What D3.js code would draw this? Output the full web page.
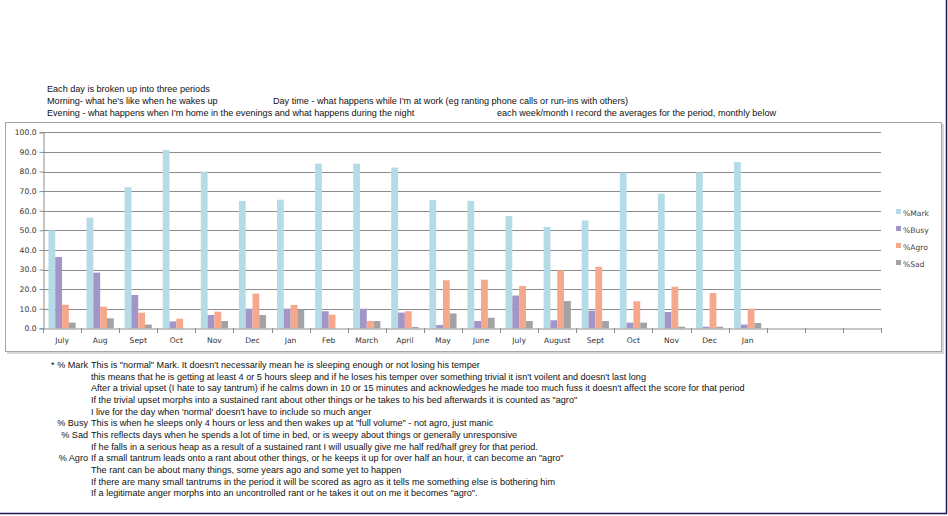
<!DOCTYPE html>
<html>
<head>
<meta charset="utf-8">
<script src="https://cdn.jsdelivr.net/npm/d3@7"></script>
<style>
  body { margin: 0; background: #fff; }
  svg { display: block; }
</style>
</head>
<body>
<svg id="chart" width="948" height="516"></svg>
<script>
// months recorded, the axis has 3 more empty slots after the last Jan
const months = ["July", "Aug", "Sept", "Oct", "Nov", "Dec", "Jan", "Feb", "March", "April",
    "May", "June", "July", "August", "Sept", "Oct", "Nov", "Dec", "Jan"];
const slots = 22;

const series = ["%Mark", "%Busy", "%Agro", "%Sad"];
const colors = ["#b4dbe6", "#a395c7", "#f5a88c", "#a3a3a3"];

const mark = [50, 56.5, 72, 91, 80, 65, 65.6, 84, 84, 82, 65.5, 65, 57.3, 51.7, 55, 79.5, 68.7, 79.6, 84.8];
const busy = [36.4, 28.4, 17, 3.5, 6.8, 10, 10, 8.7, 10, 8, 1.7, 3.7, 16.7, 4.1, 9, 2.9, 8.3, 0.8, 1.9];
const agro = [12, 11, 8, 4.9, 8.5, 17.7, 11.9, 7, 3.7, 8.7, 24.5, 24.8, 21.6, 29.6, 31.4, 13.8, 21.2, 18, 10];
const sad = [2.9, 5.1, 1.9, 0, 3.7, 6.8, 9.5, 0, 3.7, 0.7, 7.6, 5.4, 3.7, 13.9, 3.7, 2.9, 0.8, 0.8, 2.7];

const yTicks = [0, 10, 20, 30, 40, 50, 60, 70, 80, 90, 100];

const headerLines = [
    ["Each day is broken up into three periods", ""],
    ["Morning- what he's like when he wakes up", "Day time - what happens while I'm at work (eg ranting phone calls or run-ins with others)"],
    ["Evening - what happens when I'm home in the evenings and what happens during the night", "each week/month I record the averages for the period, monthly below"]
];

const notes = [
    ["* % Mark", "This is \"normal\" Mark. It doesn't necessarily mean he is sleeping enough or not losing his temper"],
    ["", "this means that he is getting at least 4 or 5 hours sleep and if he loses his temper over something trivial it isn't voilent and doesn't last long"],
    ["", "After a trivial upset (I hate to say tantrum) if he calms down in 10 or 15 minutes and acknowledges he made too much fuss it doesn't affect the score for that period"],
    ["", "If the trivial upset morphs into a sustained rant about other things or he takes to  his bed afterwards it is counted as \"agro\""],
    ["", "I live for the day when 'normal' doesn't have to include so much anger"],
    ["% Busy", "This is when he sleeps only 4 hours or less and then wakes up at \"full volume\" - not agro, just manic"],
    ["% Sad", "This reflects days when he spends a lot of time in bed, or is weepy about things or generally unresponsive"],
    ["", "If he falls in a serious heap as a result of a sustained rant I will usually give me half red/half grey for that period."],
    ["% Agro", "If a small tantrum leads onto a rant about other things, or he keeps it up for over half an hour,  it can become an \"agro\""],
    ["", "The rant can be about many things, some years ago and some yet to happen"],
    ["", "If there are many small tantrums in the period it will be scored as agro as it tells me something else is bothering him"],
    ["", "If a legitimate anger morphs into an uncontrolled rant or he takes it out on me it becomes \"agro\"."]
];

const textFont = "'Liberation Sans', Arial, sans-serif";
const chartFont = "'DejaVu Sans', sans-serif";
const textSize = "9.1px";

const svg = d3.select("#chart");

// page frame lines (right and bottom)
svg.append("line").attr("x1", 946.5).attr("x2", 946.5).attr("y1", 0).attr("y2", 513.5)
    .attr("stroke", "#1c1a5c").attr("stroke-width", 1.5);
svg.append("line").attr("x1", 0).attr("x2", 947).attr("y1", 513.5).attr("y2", 513.5)
    .attr("stroke", "#1c1a5c").attr("stroke-width", 1.5);

// header text
headerLines.forEach((l, i) => {
    const yy = 92 + i * 12;
    svg.append("text").attr("x", 47).attr("y", yy)
        .style("font-family", textFont).style("font-size", textSize).style("fill", "#111")
        .text(l[0]);
    if (l[1]) {
        svg.append("text").attr("x", i === 1 ? 273 : 497).attr("y", yy)
            .style("font-family", textFont).style("font-size", textSize).style("fill", "#111")
            .text(l[1]);
    }
});

// chart box with a small shadow
svg.append("rect").attr("x", 7).attr("y", 124).attr("width", 937).attr("height", 230)
    .attr("fill", "#d8d8d8");
svg.append("rect").attr("x", 5.5).attr("y", 122.5).attr("width", 936).attr("height", 229)
    .attr("fill", "#fff").attr("stroke", "#a6a6a6");

const plotLeft = 43, plotRight = 881, plotTop = 132.3, plotBottom = 328.3;

const x0 = d3.scaleBand().domain(d3.range(slots)).range([plotLeft, plotRight]).padding(0);
const x1 = d3.scaleBand().domain(series).range([0, x0.bandwidth()]).paddingInner(0).paddingOuter(0.8);
const y = d3.scaleLinear().domain([0, 100]).range([plotBottom, plotTop]);

const g = svg.append("g");

// gridlines
g.selectAll(".grid").data(yTicks.filter(d => d > 0)).enter().append("line")
    .attr("x1", plotLeft).attr("x2", plotRight)
    .attr("y1", d => Math.round(y(d)) + 0.5).attr("y2", d => Math.round(y(d)) + 0.5)
    .attr("stroke", "#8c8c8c").attr("stroke-width", 1);

// y axis
const yAxis = g.append("g").attr("transform", `translate(${plotLeft + 0.5},0)`)
    .call(d3.axisLeft(y).tickValues(yTicks).tickFormat(d3.format(".1f")).tickSize(4).tickPadding(3));
yAxis.select(".domain").attr("stroke", "#8c8c8c");
yAxis.selectAll(".tick line").attr("stroke", "#8c8c8c");
yAxis.selectAll(".tick text").style("font-family", chartFont).style("font-size", "7.6px").style("fill", "#333");

// bars
const values = [mark, busy, agro, sad];
const rows = months.map((m, i) => ({ i: i, vals: series.map((s, k) => ({ key: s, k: k, v: values[k][i] })) }));

g.selectAll(".grp").data(rows).enter().append("g")
    .attr("transform", d => `translate(${x0(d.i)},0)`)
    .selectAll("rect").data(d => d.vals).enter().append("rect")
    .attr("x", d => x1(d.key))
    .attr("y", d => y(d.v))
    .attr("width", x1.bandwidth())
    .attr("height", d => plotBottom - y(d.v))
    .attr("fill", d => colors[d.k]);

// x axis with ticks on category boundaries
const xAxis = g.append("g").attr("transform", `translate(0,${Math.round(plotBottom) + 0.5})`)
    .call(d3.axisBottom(x0).tickSize(0).tickPadding(9).tickFormat(i => months[i] || ""));
xAxis.select(".domain").attr("stroke", "#8c8c8c");
xAxis.selectAll(".tick text").style("font-family", chartFont).style("font-size", "7.6px").style("fill", "#333");
g.selectAll(".xtick").data(d3.range(slots + 1)).enter().append("line")
    .attr("x1", i => Math.round(plotLeft + i * x0.step()) + 0.5)
    .attr("x2", i => Math.round(plotLeft + i * x0.step()) + 0.5)
    .attr("y1", Math.round(plotBottom)).attr("y2", Math.round(plotBottom) + 5)
    .attr("stroke", "#8c8c8c");

// legend
const legend = svg.append("g").attr("transform", "translate(896,210)");
series.forEach((s, k) => {
    const row = legend.append("g").attr("transform", `translate(0,${k * 17})`);
    row.append("rect").attr("x", 0).attr("y", -1).attr("width", 5).attr("height", 5).attr("fill", colors[k]);
    row.append("text").attr("x", 7).attr("y", 5.5)
        .style("font-family", chartFont).style("font-size", "7.6px").style("fill", "#444")
        .text(s);
});

// notes under the chart
notes.forEach((n, i) => {
    const yy = 368 + i * 11.65;
    if (n[0]) {
        svg.append("text").attr("x", 88).attr("y", yy).attr("text-anchor", "end")
            .style("font-family", textFont).style("font-size", textSize).style("fill", "#111")
            .text(n[0]);
    }
    svg.append("text").attr("x", 91).attr("y", yy)
        .style("font-family", textFont).style("font-size", textSize).style("fill", "#111")
        .text(n[1]);
});
</script>
</body>
</html>
